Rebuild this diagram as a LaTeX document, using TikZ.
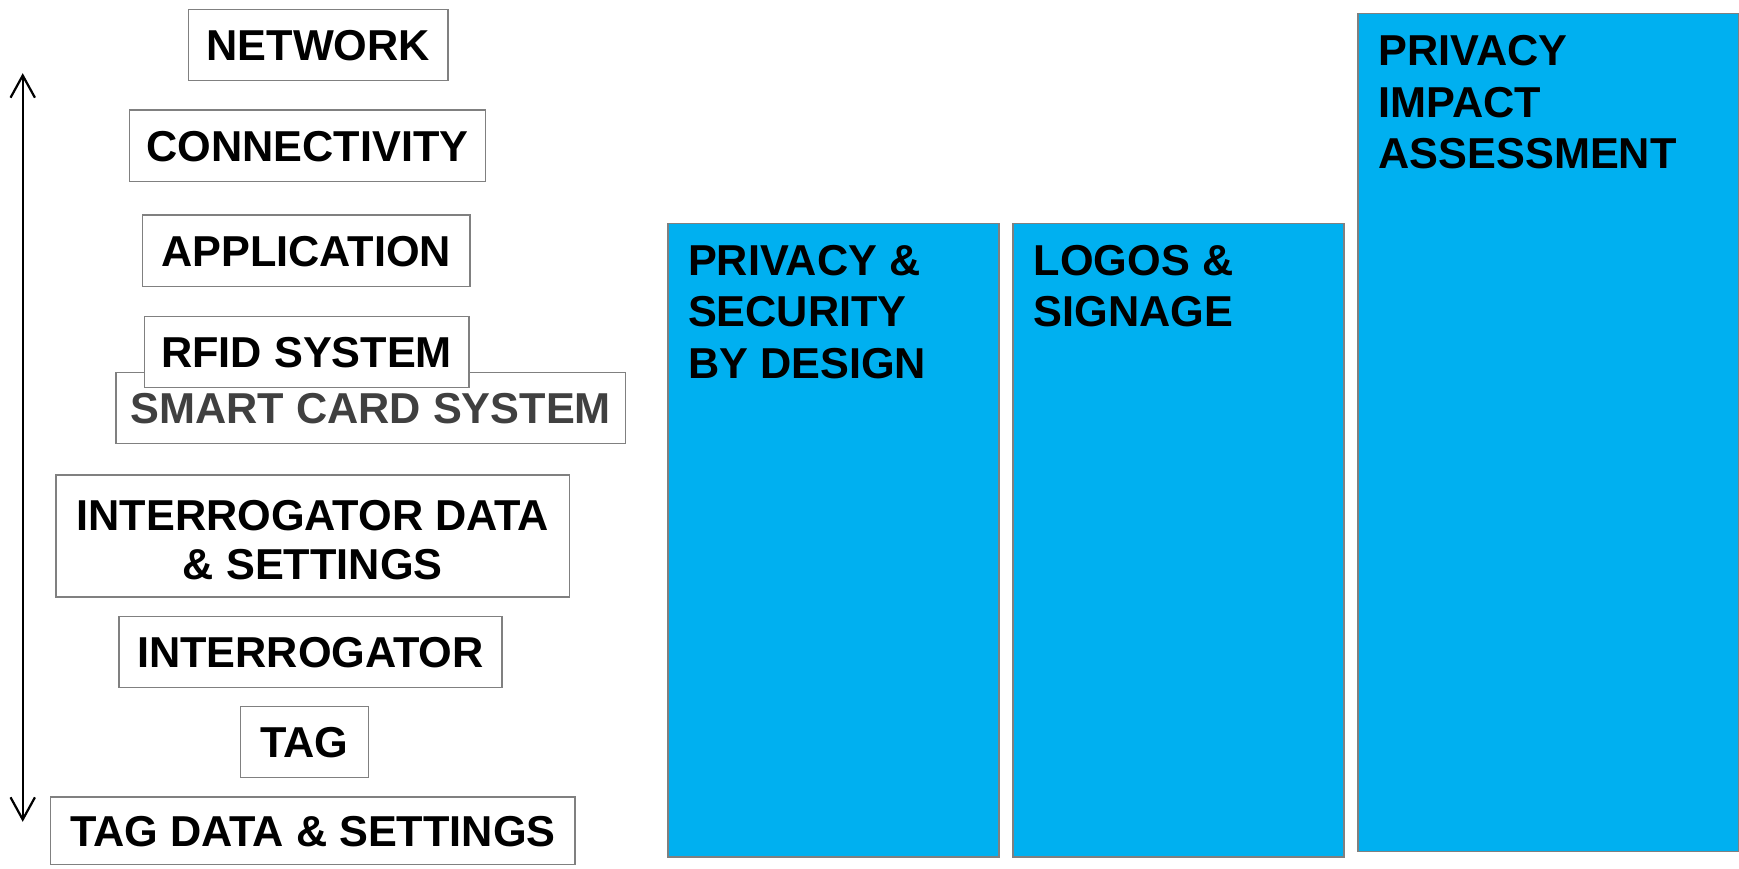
\documentclass[tikz,border=0pt]{standalone}
\usepackage{fontspec}
\setmainfont{Liberation Sans}
\usetikzlibrary{arrows.meta}
\definecolor{boxgray}{HTML}{808080}
\definecolor{skyblue}{HTML}{00B0F0}
\definecolor{darktext}{HTML}{404040}
\begin{document}
\begin{tikzpicture}[x=1pt,y=-1pt,
  layer/.style={draw=boxgray, line width=1.4pt, fill=white, inner sep=0pt,
    font=\fontsize{39}{45}\selectfont\bfseries, align=center},
  oneline/.style={text height=27.9pt, text depth=0pt},
  pillar/.style={draw=boxgray, line width=1.4pt, fill=skyblue, inner sep=0pt, anchor=north west},
  pillartext/.style={anchor=north west, inner sep=0pt, align=left,
    font=\fontsize{39}{46.5}\selectfont\bfseries},
  barb/.style={line width=2pt, {Straight Barb[length=20pt,width=22pt]}-{Straight Barb[length=20pt,width=22pt]}}]
\useasboundingbox (0,0) rectangle (1568,783);
\fill[white] (0,0) rectangle (1568,783);

% vertical double arrow
\coordinate (uptip) at (20.5,66);
\coordinate (downtip) at (20.5,741);
\draw[barb] (uptip) -- (downtip);

% layer boxes
\node[layer, oneline, minimum width=233.7pt, minimum height=64.3pt] (network) at (287,40.6) {NETWORK};
\node[layer, oneline, minimum width=320.9pt, minimum height=64.6pt] (connectivity) at (277.2,131.5) {CONNECTIVITY};
\node[layer, oneline, minimum width=295.4pt, minimum height=64.6pt] (application) at (276.1,226.2) {APPLICATION};
\node[layer, oneline, minimum width=459.4pt, minimum height=63.7pt, text=darktext] (smartcard) at (334.3,367.9) {SMART CARD SYSTEM};
\node[layer, oneline, minimum width=292.3pt, minimum height=64.1pt] (rfid) at (276.5,317.5) {RFID SYSTEM};
\node[layer, minimum width=463.1pt, minimum height=109.7pt] (intdata) at (282,483.2) {};
\node[font=\fontsize{39}{45}\selectfont\bfseries, align=center, inner sep=0pt] (intdatatext) at (282,487) {INTERROGATOR DATA\\\& SETTINGS};
\node[layer, oneline, minimum width=345.7pt, minimum height=63.7pt] (interrogator) at (279.9,587.9) {INTERROGATOR};
\node[layer, oneline, minimum width=115.6pt, minimum height=64pt] (tag) at (274.5,669.2) {TAG};
\node[layer, oneline, minimum width=473.2pt, minimum height=61pt] (tagdata) at (282.1,748.9) {TAG DATA \& SETTINGS};

% blue pillars
\node[pillar, minimum width=298.2pt, minimum height=571pt] (psd) at (601.7,200.8) {};
\node[pillar, minimum width=298.6pt, minimum height=571pt] (logos) at (912.7,200.8) {};
\node[pillar, minimum width=343.2pt, minimum height=755.6pt] (pia) at (1223.8,11.4) {};

\node[pillartext] (psdtext) at (620.2,220.9) {PRIVACY \&\\SECURITY\\BY DESIGN};
\node[pillartext] (logostext) at (932,220.9) {LOGOS \&\\SIGNAGE};
\node[pillartext] (piatext) at (1242.8,31.6) {PRIVACY\\IMPACT\\ASSESSMENT};
\end{tikzpicture}
\end{document}
